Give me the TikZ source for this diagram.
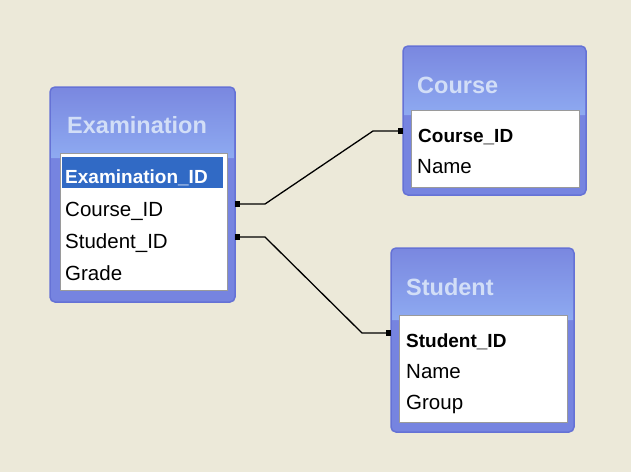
\documentclass[tikz,border=0pt]{standalone}
\usepackage{fontspec}
\setmainfont{Liberation Sans}
\usetikzlibrary{positioning,calc}
\definecolor{desk}{HTML}{ECE9D9}
\definecolor{framedark}{HTML}{6572D6}
\definecolor{framefill}{HTML}{7684E0}
\definecolor{bandtop}{HTML}{7A88E0}
\definecolor{bandlow}{HTML}{8EAAF1}
\definecolor{titletext}{HTML}{D2DEF7}
\definecolor{selblue}{HTML}{316AC5}
\definecolor{insetgray}{HTML}{9A9A9A}

\begin{document}
\begin{tikzpicture}[x=1pt,y=-1pt,
	tableframe/.style={rectangle,draw=framedark,fill=framefill,line width=1.5pt,rounded corners=5pt,inner sep=0pt},
	fieldbox/.style={rectangle,draw=insetgray,fill=white,line width=1pt,inner sep=0pt},
	selrow/.style={rectangle,fill=selblue,inner sep=0pt},
	titleband/.style={top color=bandtop,bottom color=bandlow},
	tabletitle/.style={anchor=base west,inner sep=0pt,text=titletext,font=\fontsize{23.5}{24}\selectfont\bfseries},
	field/.style={anchor=base west,inner sep=0pt,font=\fontsize{20.5}{21}\selectfont},
	keyfield/.style={anchor=base west,inner sep=0pt,font=\fontsize{19}{20}\selectfont\bfseries},
	joint/.style={rectangle,fill=black,inner sep=0pt,minimum width=5pt,minimum height=6pt},
	link/.style={line width=1.3pt,black}]
	\fill[desk] (0,0) rectangle (631,472);
	\useasboundingbox (0,0) rectangle (631,472);
	% Examination
	\node [tableframe,minimum width=185pt,minimum height=215pt] (examination) at (142.5,194.5) {};
	\shade[titleband] (51,158) {[rounded corners=4pt] -- (51,88) -- (234,88)} -- (234,158) -- cycle;
	\node [fieldbox,minimum width=167pt,minimum height=137pt] (examfields) at (143.5,221.5) {};
	\node [selrow,minimum width=161pt,minimum height=31pt] (examsel) at (142.5,172.5) {};
	\node [tabletitle] (examtitle) at (67,133) {Examination};
	\node [keyfield,text=white] (examid) at (65,183) {Examination\_ID};
	\node [field] (examcourse) at (65,216.5) {Course\_ID};
	\node [field] (examstudent) at (65,248.5) {Student\_ID};
	\node [field] (examgrade) at (65,280) {Grade};
	% Course
	\node [tableframe,minimum width=183pt,minimum height=149pt] (course) at (494.5,120.5) {};
	\shade[titleband] (404,115) {[rounded corners=4pt] -- (404,47) -- (585,47)} -- (585,115) -- cycle;
	\node [fieldbox,minimum width=168pt,minimum height=77pt] (coursefields) at (495,148.5) {};
	\node [tabletitle] (coursetitle) at (417,93) {Course};
	\node [keyfield] (courseid) at (418,142) {Course\_ID};
	\node [field] (coursename) at (417,173.5) {Name};
	% Student
	\node [tableframe,minimum width=183pt,minimum height=184pt] (student) at (482.5,340) {};
	\shade[titleband] (392,320) {[rounded corners=4pt] -- (392,249) -- (573,249)} -- (573,320) -- cycle;
	\node [fieldbox,minimum width=168pt,minimum height=107pt] (studentfields) at (483,368.5) {};
	\node [tabletitle] (studenttitle) at (406,295) {Student};
	\node [keyfield] (studentid) at (406,347) {Student\_ID};
	\node [field] (studentname) at (406,378.5) {Name};
	\node [field] (studentgroup) at (406,409) {Group};
	% relationships
	\node [joint] (fromcourse) at (237,204) {};
	\node [joint] (tocourse) at (400,131) {};
	\node [joint] (fromstudent) at (237,237) {};
	\node [joint] (tostudent) at (388,333) {};
	\draw [link] (fromcourse.center) -- +(28,0) -- ($(tocourse.center)+(-27,0)$) -- (tocourse.center);
	\draw [link] (fromstudent.center) -- +(28,0) -- ($(tostudent.center)+(-26,0)$) -- (tostudent.center);
\end{tikzpicture}
\end{document}
